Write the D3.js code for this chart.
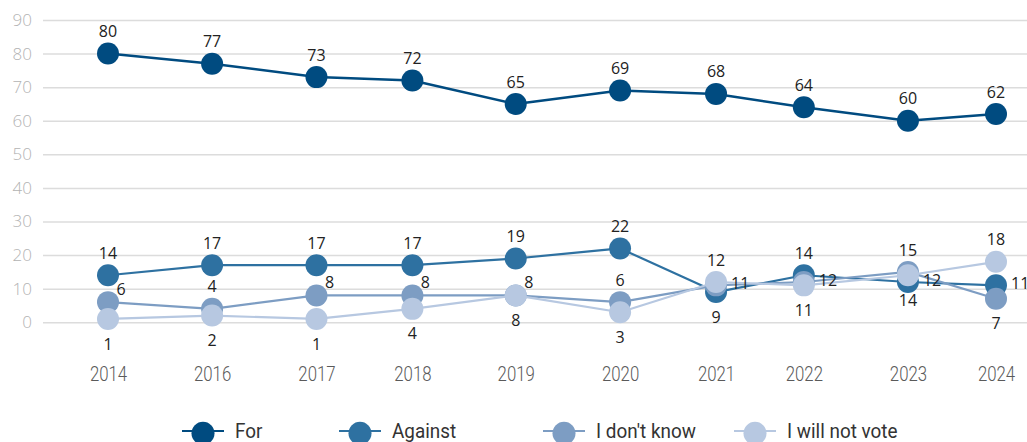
<!DOCTYPE html>
<html>
<head>
<meta charset="utf-8">
<script src="https://cdn.jsdelivr.net/npm/d3@7"></script>
<style>
  html, body { margin: 0; padding: 0; background: #fff; overflow: hidden; }
  svg { display: block; }
</style>
</head>
<body>
<svg id="chart" width="1027" height="442"></svg>
<script>
// ---- Data -----------------------------------------------------------------
const years = ["2014", "2016", "2017", "2018", "2019", "2020", "2021", "2022", "2023", "2024"];
// fieldwork month of each survey wave
const surveyDates = ["2014-12", "2016-01", "2017-02", "2018-02", "2019-03", "2020-04", "2021-04", "2022-03", "2023-04", "2024-03"];

const forVotes       = [80, 77, 73, 72, 65, 69, 68, 64, 60, 62];
const againstVotes   = [14, 17, 17, 17, 19, 22,  9, 14, 12, 11];
const dontKnowVotes  = [ 6,  4,  8,  8,  8,  6, 11, 12, 15,  7];
const willNotVote    = [ 1,  2,  1,  4,  8,  3, 12, 11, 14, 18];

const seriesNames = ["For", "Against", "I don't know", "I will not vote"];
const yTicks = [0, 10, 20, 30, 40, 50, 60, 70, 80, 90];

// ---- Styling & layout ---------------------------------------------------------
const colors = ["#004b80", "#2e71a1", "#7d9dc3", "#b7c8e1"];
const lineWidths = [2.5, 2.2, 2.2, 2.2];
const plotLeft = 43, plotRight = 1027;
const pointRadius = 11;

// where each series puts its value label, with a few hand-placed exceptions
const defaultPlacement = {
  "For": "above",
  "Against": "above",
  "I don't know": "aboveRight",
  "I will not vote": "below"
};
const placementOverrides = {
  "I don't know|2016": "above",
  "I don't know|2020": "above",
  "Against|2021": "below",
  "I don't know|2021": "right",
  "I will not vote|2021": "above",
  "I don't know|2022": "right",
  "Against|2023": "right",
  "I don't know|2023": "above",
  "Against|2024": "right",
  "I don't know|2024": "below",
  "I will not vote|2024": "above"
};
const placementOffsets = {
  above:      { dx: 0,  dy: -22, anchor: "middle" },
  aboveRight: { dx: 13, dy: -13, anchor: "middle" },
  below:      { dx: 0,  dy: 25,  anchor: "middle" },
  right:      { dx: 15, dy: -2,  anchor: "start" }
};

const legendX = [203, 360, 564, 755];
const legendY = 432;

// ---- Scales -------------------------------------------------------------------
const parseMonth = d3.timeParse("%Y-%m");
const dates = surveyDates.map(parseMonth);

const x = d3.scaleTime()
  .domain(d3.extent(dates))
  .range([108, 996]);

const y = d3.scaleLinear()
  .domain([0, 90])
  .range([322.3, 20]);

const svg = d3.select("#chart");

// ---- Y axis with gridlines --------------------------------------------------------
const yAxis = svg.append("g")
  .attr("transform", `translate(${plotLeft},0)`)
  .call(d3.axisLeft(y)
    .tickValues(yTicks)
    .tickSize(-(plotRight - plotLeft))
    .tickPadding(11));
yAxis.select(".domain").remove();
yAxis.selectAll(".tick line")
  .attr("stroke", "#dcdcdc")
  .attr("stroke-width", 1.5);
yAxis.selectAll(".tick text")
  .attr("fill", "#b3b3b3")
  .style("font-family", "'Open Sans', 'Noto Sans', sans-serif")
  .style("font-weight", 300)
  .style("font-size", "17px");

// ---- X axis (survey years) ----------------------------------------------------------
const xAxis = svg.append("g")
  .attr("transform", `translate(0,${y(0)})`)
  .call(d3.axisBottom(x)
    .tickValues(dates)
    .tickFormat((d, i) => years[i])
    .tickSize(0)
    .tickPadding(44));
xAxis.select(".domain").remove();
xAxis.selectAll(".tick text")
  .attr("fill", "#5a5a5a")
  .attr("transform", "scale(0.8,1)")
  .style("font-family", "Roboto, 'Liberation Sans', sans-serif")
  .style("font-weight", 300)
  .style("font-size", "21px");

// ---- Series -----------------------------------------------------------------------------
const seriesValues = [forVotes, againstVotes, dontKnowVotes, willNotVote];
const series = seriesNames.map((name, s) => ({
  name,
  color: colors[s],
  width: lineWidths[s],
  points: seriesValues[s].map((v, i) => ({ date: dates[i], year: years[i], value: v }))
}));

const line = d3.line()
  .x(d => x(d.date))
  .y(d => y(d.value));

const seriesG = svg.append("g")
  .selectAll("g.series")
  .data(series)
  .join("g")
  .attr("class", "series");

seriesG.append("path")
  .attr("d", d => line(d.points))
  .attr("fill", "none")
  .attr("stroke", d => d.color)
  .attr("stroke-width", d => d.width)
  .attr("stroke-linejoin", "round");

seriesG.selectAll("circle")
  .data(d => d.points.map(p => ({ ...p, color: d.color })))
  .join("circle")
  .attr("cx", d => x(d.date))
  .attr("cy", d => y(d.value))
  .attr("r", pointRadius)
  .attr("fill", d => d.color);

// ---- Value labels -----------------------------------------------------------------------
const labels = [];
series.forEach(s => {
  s.points.forEach(p => {
    const place = placementOverrides[`${s.name}|${p.year}`] || defaultPlacement[s.name];
    labels.push({ ...p, place });
  });
});

svg.append("g")
  .selectAll("text")
  .data(labels)
  .join("text")
  .attr("x", d => x(d.date) + placementOffsets[d.place].dx)
  .attr("y", d => y(d.value) + placementOffsets[d.place].dy)
  .attr("dy", "0.35em")
  .attr("text-anchor", d => placementOffsets[d.place].anchor)
  .attr("fill", "#222")
  .style("font-family", "'Open Sans', 'Noto Sans', sans-serif")
  .style("font-size", "16px")
  .text(d => d.value);

// ---- Legend -------------------------------------------------------------------------------
const legend = svg.append("g")
  .selectAll("g")
  .data(series)
  .join("g")
  .attr("transform", (d, i) => `translate(${legendX[i]},${legendY})`);

legend.append("line")
  .attr("x1", -21).attr("x2", 21)
  .attr("y1", -1).attr("y2", -1)
  .attr("stroke", d => d.color)
  .attr("stroke-width", 2.2);

legend.append("circle")
  .attr("cx", 0).attr("cy", 1.3)
  .attr("r", 11.5)
  .attr("fill", d => d.color);

legend.append("text")
  .attr("transform", "translate(32,5.5) scale(0.9,1)")
  .attr("fill", "#333")
  .style("font-family", "Roboto, 'Liberation Sans', sans-serif")
  .style("font-size", "21px")
  .text(d => d.name);
</script>
</body>
</html>
